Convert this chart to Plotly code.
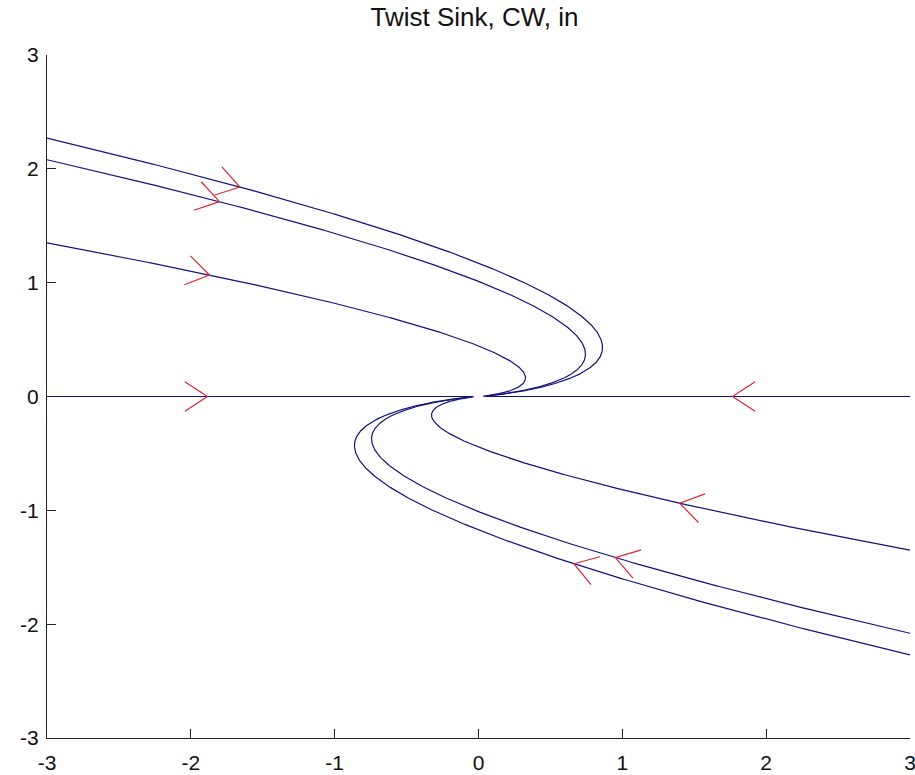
import numpy as np
import plotly.graph_objects as go

# ---- data ----
# linear system  x' = a11 x + a12 y ,  y' = a21 x + a22 y  (twist sink, clockwise)
system_matrix = [[-1.0, 2.0], [0.0, -1.0]]
# starting points of the trajectories (on the plot edges)
start_x = [-3.0, -3.0, -3.0, -3.0, 3.0, 3.0, 3.0, 3.0]
start_y = [2.27, 2.08, 1.35, 0.0, -2.27, -2.08, -1.35, 0.0]
# integration time of each trajectory
t_end = [6.0, 6.0, 6.0, 4.3, 6.0, 6.0, 6.0, 4.3]
# x position of the direction arrow on each trajectory
arrow_x = [-1.645, -1.80, -1.87, -1.88, 0.65, 0.935, 1.39, 1.76]

tick_vals = [-3, -2, -1, 0, 1, 2, 3]
tick_text = ["-3", "-2", "-1", "0", "1", "2", "3"]
title_text = "Twist Sink, CW, in"

# ---- styling ----
W, H = 915, 775
ML, MR, MT, MB = 47, 5, 55, 37
LINE_COLOR = "#12127a"
ARROW_COLOR = "#d8283a"
FONT = "Liberation Sans"

A = np.array(system_matrix)


def field(p):
    return A @ p


def integrate(p0, T, dt=0.005):
    n = int(round(T / dt))
    pts = np.empty((n + 1, 2))
    p = np.array(p0, dtype=float)
    pts[0] = p
    for i in range(n):
        k1 = field(p)
        k2 = field(p + 0.5 * dt * k1)
        k3 = field(p + 0.5 * dt * k2)
        k4 = field(p + dt * k3)
        p = p + dt / 6.0 * (k1 + 2 * k2 + 2 * k3 + k4)
        pts[i + 1] = p
    return pts


# pixel scale of the data axes
sx = (W - ML - MR) / 6.0
sy = (H - MT - MB) / 6.0
WING_LEN = 27.0
WING_ANG = np.deg2rad(33)

fig = go.Figure()

for x0, y0, T, ax in zip(start_x, start_y, t_end, arrow_x):
    pts = integrate((x0, y0), T)
    fig.add_trace(go.Scatter(x=pts[:, 0], y=pts[:, 1], mode="lines",
                             line=dict(color=LINE_COLOR, width=1.2),
                             hoverinfo="skip", showlegend=False))
    # arrow tip: first crossing of arrow_x along the trajectory
    d = pts[:, 0] - ax
    idx = np.where(np.sign(d[:-1]) != np.sign(d[1:]))[0]
    i = idx[0] if len(idx) else int(np.argmin(np.abs(d)))
    tip = pts[i]
    v = field(tip)
    u = np.array([v[0] * sx, v[1] * sy])
    u = u / np.linalg.norm(u)
    back = -u
    wx, wy = [], []
    for s in (1, -1):
        c, sn = np.cos(s * WING_ANG), np.sin(s * WING_ANG)
        r = np.array([c * back[0] - sn * back[1], sn * back[0] + c * back[1]])
        end = tip + np.array([r[0] * WING_LEN / sx, r[1] * WING_LEN / sy])
        wx += [end[0], tip[0]]
        wy += [end[1], tip[1]]
    fig.add_trace(go.Scatter(x=wx, y=wy, mode="lines",
                             line=dict(color=ARROW_COLOR, width=1.2),
                             hoverinfo="skip", showlegend=False))

axis_common = dict(range=[-3, 3], tickvals=tick_vals, ticktext=tick_text,
                   ticks="inside", ticklen=9, tickcolor="#222222", tickwidth=1,
                   showline=True, linecolor="#222222", linewidth=1,
                   mirror=False, showgrid=False, zeroline=False,
                   automargin=False, ticklabeloverflow="allow",
                   tickfont=dict(family=FONT, size=21, color="#111111"))

fig.update_layout(
    width=W, height=H,
    margin=dict(l=ML, r=MR, t=MT, b=MB, autoexpand=False),
    paper_bgcolor="white", plot_bgcolor="white",
    title=dict(text=title_text, x=(ML + (W - ML - MR) / 2 - 4) / W, xref="container",
               xanchor="center",
               y=(H - 17) / H, yref="container", yanchor="middle",
               font=dict(family=FONT, size=26, color="#111111")),
    xaxis=dict(**axis_common, ticklabelstandoff=6),
    yaxis=dict(**axis_common, ticklabelstandoff=3),
)

fig.write_html("out.html",
               config={"displayModeBar": False},
               post_script="document.body.style.margin='0px';"
                           "document.body.style.overflow='hidden';")
